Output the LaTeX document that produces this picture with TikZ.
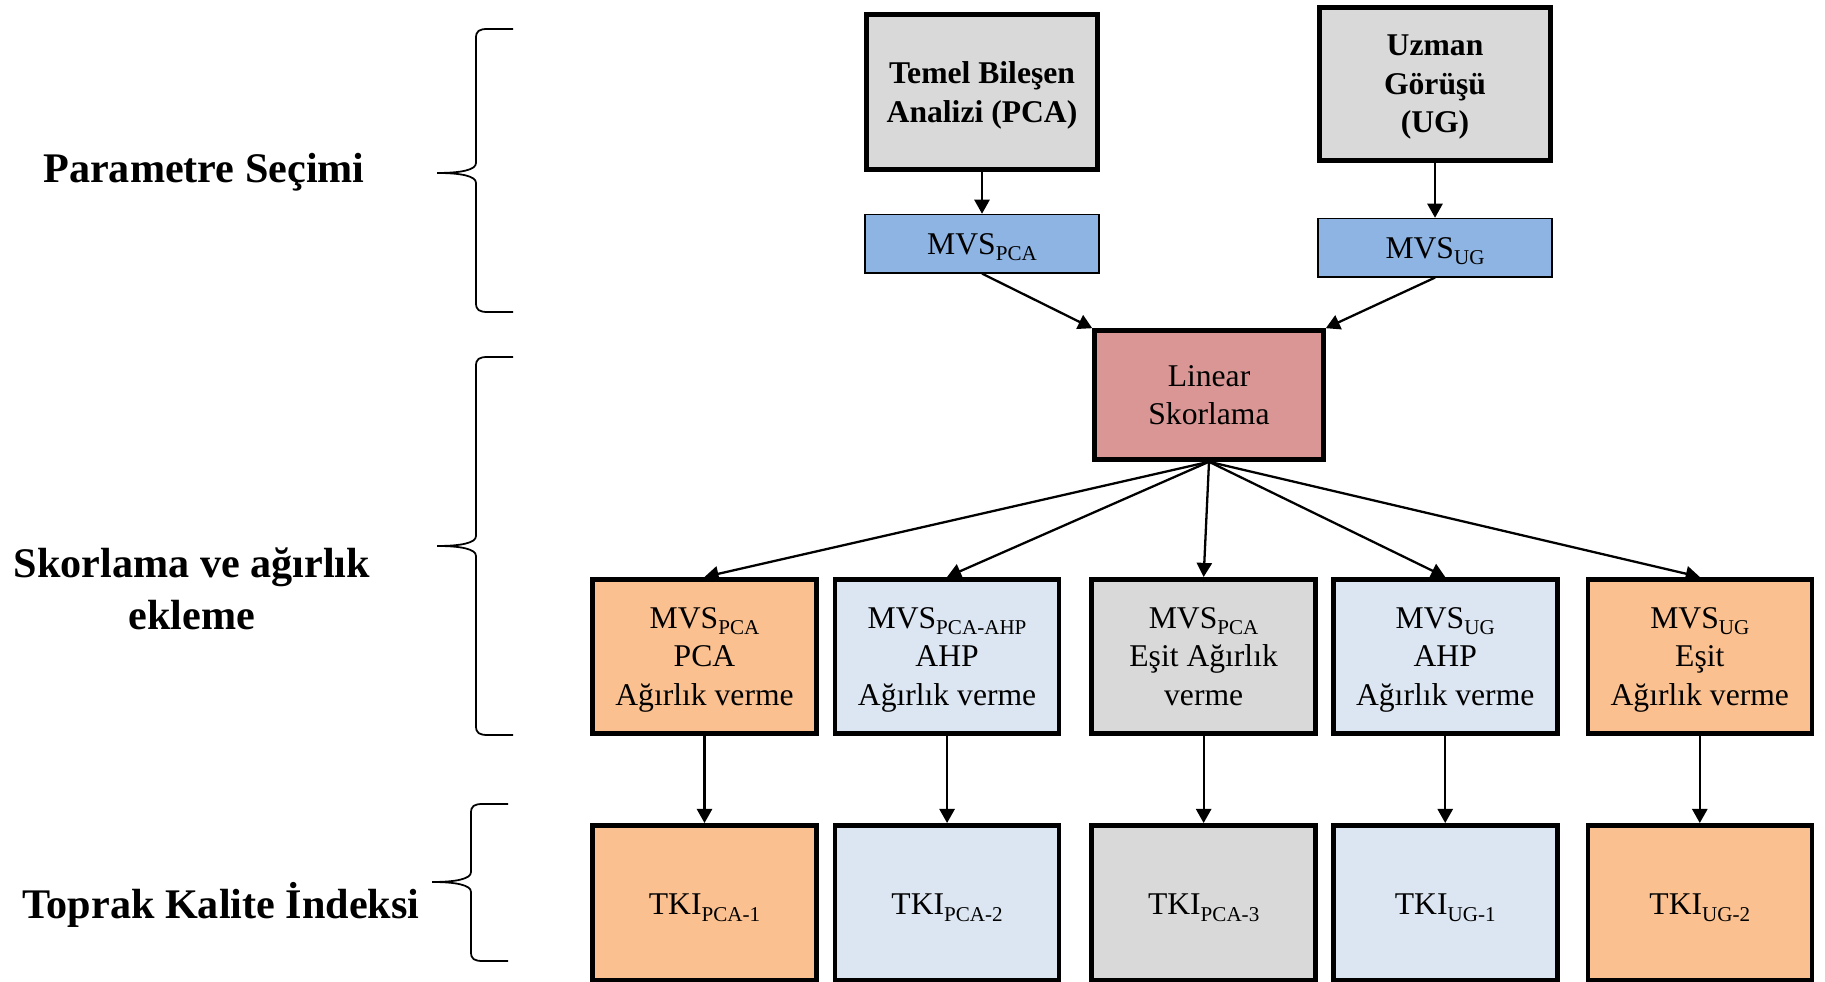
\documentclass[tikz,border=0pt]{standalone}
\usepackage{fontspec}
\setmainfont{Liberation Serif}
\usetikzlibrary{arrows.meta,positioning}
\definecolor{Grey}{HTML}{D9D9D9}
\definecolor{Sky}{HTML}{8EB4E3}
\definecolor{Rose}{HTML}{D99694}
\definecolor{Peach}{HTML}{FAC090}
\definecolor{Pale}{HTML}{DCE6F2}
% small lowered index (MVS_PCA, TKI_UG-1, ...)
\newcommand{\lowidx}[1]{\raisebox{-1.9pt}{\fontsize{6}{6}\selectfont #1}}
% left curly bracket: line x, top y, bottom y, tip y
\newcommand{\stagebrace}[4]{%
  \draw[bracel] (#1+0.37,#2) -- (#1+0.12,#2)
    .. controls (#1+0.03,#2) and (#1,#2-0.02) .. (#1,#2-0.09)
    -- (#1,#4+0.10)
    .. controls (#1,#4+0.03) and (#1-0.15,#4) .. (#1-0.39,#4)
    .. controls (#1-0.15,#4) and (#1,#4-0.03) .. (#1,#4-0.10)
    -- (#1,#3+0.09)
    .. controls (#1,#3+0.02) and (#1+0.03,#3) .. (#1+0.12,#3)
    -- (#1+0.37,#3);}

\begin{document}
\begin{tikzpicture}[
  node distance=0.15cm,
  lift/.style={execute at begin node={\rule{0pt}{#1}}},
  stage/.style={draw=black,line width=1.3pt,minimum width=2.24cm,minimum height=1.545cm,align=center,inner sep=2pt,font=\fontsize{9}{11}\selectfont,lift=9pt},
  boxsource/.style={stage,fill=Grey,minimum width=2.31cm,minimum height=1.55cm,font=\fontsize{9}{11}\selectfont\bfseries,text depth=-1.3pt},
  boxsky/.style={draw=black,line width=0.4pt,fill=Sky,minimum width=2.34cm,minimum height=0.57cm,font=\fontsize{9}{11}\selectfont,lift=8pt},
  boxrose/.style={stage,fill=Rose,minimum width=2.29cm,minimum height=1.29cm,text depth=-1.6pt},
  boxpeach/.style={stage,fill=Peach},
  boxpale/.style={stage,fill=Pale},
  boxgrey/.style={stage,fill=Grey},
  weight/.style={text depth=-3.2pt},
  stagelabel/.style={align=center,font=\fontsize{12}{14.6}\selectfont\bfseries},
  bracel/.style={line width=0.5pt},
  arrow/.style={-{Triangle[length=4pt,width=4.3pt]},line width=0.65pt}
]
\useasboundingbox (0,0) rectangle (18.25,9.82);

% stage names and brackets
\node[stagelabel] (sel) at (2.04,8.10) {Parametre Seçimi};
\node[stagelabel] (score) at (1.92,3.93) {Skorlama ve ağırlık\\ekleme};
\node[stagelabel] (index) at (2.21,0.77) {Toprak Kalite İndeksi};
\stagebrace{4.76}{9.53}{6.70}{8.09}
\stagebrace{4.76}{6.25}{2.47}{4.36}
\stagebrace{4.71}{1.78}{0.21}{1.00}

% parameter selection
\node[boxsource] (pca) at (9.82,8.90) {Temel Bileşen\\Analizi (PCA)};
\node[boxsource,minimum height=1.53cm] (ug) at (14.35,8.98) {Uzman\\Görüşü\\(UG)};
\node[boxsky,below=0.42cm of pca,minimum height=0.58cm] (mvspca) {MVS\lowidx{PCA}};
\node[boxsky,below=0.55cm of ug] (mvsug) {MVS\lowidx{UG}};
\node[boxrose] (lin) at (12.09,5.87) {Linear\\Skorlama};

% weighting
\node[boxpeach,weight] (w1) at (7.045,3.255) {MVS\lowidx{PCA}\\PCA\\Ağırlık verme};
\node[boxpale,weight,right=0.14cm of w1] (w2) {MVS\lowidx{PCA-AHP}\\AHP\\Ağırlık verme};
\node[boxgrey,weight,right=0.28cm of w2] (w3) {MVS\lowidx{PCA}\\Eşit Ağırlık\\verme};
\node[boxpale,weight,right=0.13cm of w3] (w4) {MVS\lowidx{UG}\\AHP\\Ağırlık verme};
\node[boxpeach,weight,right=0.26cm of w4] (w5) {MVS\lowidx{UG}\\Eşit\\Ağırlık verme};

% soil quality indices
\node[boxpeach,below=0.87cm of w1] (t1) {TKI\lowidx{PCA-1}};
\node[boxpale,below=0.87cm of w2] (t2) {TKI\lowidx{PCA-2}};
\node[boxgrey,below=0.87cm of w3] (t3) {TKI\lowidx{PCA-3}};
\node[boxpale,below=0.87cm of w4] (t4) {TKI\lowidx{UG-1}};
\node[boxpeach,below=0.87cm of w5] (t5) {TKI\lowidx{UG-2}};

\draw[arrow] (pca) -- (mvspca);
\draw[arrow] (ug.south) -- (ug.south |- mvsug.north);
\draw[arrow] (mvspca.south) -- (lin.north west);
\draw[arrow] (mvsug.south) -- (lin.north east);
\foreach \n in {1,...,5} {
  \draw[arrow] (lin.south) -- (w\n.north);
  \draw[arrow] (w\n) -- (t\n);
}
\end{tikzpicture}
\end{document}
